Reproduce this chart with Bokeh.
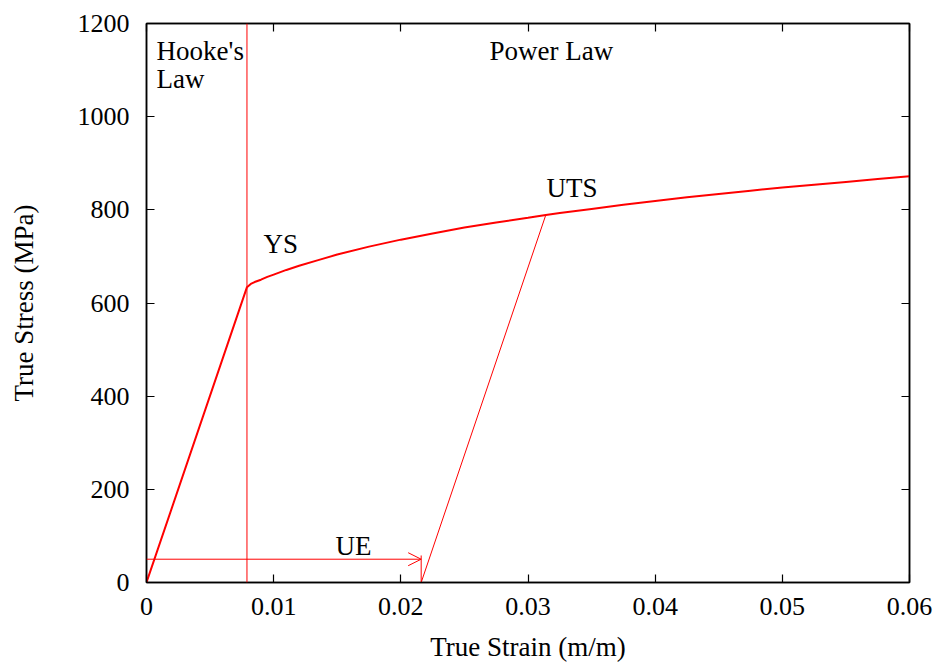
from bokeh.plotting import figure
from bokeh.models import (Range1d, LinearAxis, FixedTicker, CustomJSTickFormatter,
                          CustomLabelingPolicy, Label, Arrow, OpenHead, Span)
from bokeh.embed import file_html
from bokeh.resources import INLINE

# ---- data ----
x_ticks = [0.0, 0.01, 0.02, 0.03, 0.04, 0.05, 0.06]
x_tick_labels = ["0", "0.01", "0.02", "0.03", "0.04", "0.05", "0.06"]
y_ticks = [0, 200, 400, 600, 800, 1000, 1200]

# true stress-strain curve (elastic part + power-law hardening)
strain = [0.0, 0.0079, 0.0082, 0.0085, 0.009, 0.0095, 0.010, 0.011, 0.012, 0.0135,
          0.015, 0.0175, 0.020, 0.0225, 0.025, 0.0275, 0.030, 0.0314, 0.0325,
          0.035, 0.0375, 0.040, 0.0425, 0.045, 0.0475, 0.050, 0.0525, 0.055,
          0.0575, 0.060]
stress = [0, 634, 641, 645, 650, 656, 661, 671, 680, 692,
          704, 721, 736, 749, 762, 773, 783, 789, 793,
          802, 811, 819, 827, 834, 841, 848, 854, 860,
          866, 872]

yield_strain = 0.0079
uts_strain, uts_stress = 0.0314, 789
ue_strain = 0.0216
ue_arrow_stress = 50
ue_tick_top = 58

FONT = "Liberation Serif"
RED = "#ff0000"

p = figure(width=938, height=664, x_range=Range1d(0, 0.06), y_range=Range1d(0, 1200),
           output_backend="svg", toolbar_location=None,
           min_border_left=146, min_border_right=29, min_border_top=23, min_border_bottom=81)
p.xgrid.visible = False
p.ygrid.visible = False
p.outline_line_color = "black"
p.outline_line_width = 1.5
p.background_fill_color = "white"
p.border_fill_color = "white"

fmt = CustomJSTickFormatter(args=dict(xt=x_ticks, xl=x_tick_labels), code="""
for (let i = 0; i < xt.length; i++) { if (Math.abs(xt[i] - tick) < 1e-9) return xl[i]; }
return tick.toString();
""")

xa = p.xaxis[0]
xa.ticker = FixedTicker(ticks=x_ticks)
xa.formatter = fmt
xa.axis_label = "True Strain (m/m)"
ya = p.yaxis[0]
ya.ticker = FixedTicker(ticks=y_ticks)
ya.axis_label = "True Stress (MPa)"

for ax in (xa, ya):
    ax.major_tick_in = 8
    ax.major_tick_out = 0
    ax.minor_tick_in = 0
    ax.minor_tick_out = 0
    ax.axis_line_color = "black"
    ax.axis_line_width = 1.5
    ax.major_tick_line_color = "black"
    ax.major_tick_line_width = 1.2
    ax.major_label_text_font = FONT
    ax.major_label_text_font_size = "26px"
    ax.major_label_text_color = "black"
    ax.axis_label_text_font = FONT
    ax.axis_label_text_font_size = "27px"
    ax.axis_label_text_font_style = "normal"
    ax.axis_label_text_color = "black"
xa.major_label_standoff = 15
xa.axis_label_standoff = 14
ya.major_label_standoff = 17
ya.axis_label_standoff = 36

hide_all = CustomLabelingPolicy(code="""
const out = indices.clone();
for (const i of Array.from(indices)) { if (out.unset) out.unset(i); else out.set(i, false); }
return out;
""")

# mirrored ticks on top and right (no labels)
top = LinearAxis(ticker=FixedTicker(ticks=x_ticks), major_label_text_font_size="0px",
                 major_label_policy=hide_all,
                 major_label_standoff=0, major_tick_in=8, major_tick_out=0,
                 minor_tick_in=0, minor_tick_out=0, axis_line_width=1.5,
                 major_tick_line_width=1.2)
right = LinearAxis(ticker=FixedTicker(ticks=y_ticks), major_label_text_font_size="0px",
                   major_label_policy=hide_all,
                   major_label_standoff=0, major_tick_in=8, major_tick_out=0,
                   minor_tick_in=0, minor_tick_out=0, axis_line_width=1.5,
                   major_tick_line_width=1.2)
p.add_layout(top, "above")
p.add_layout(right, "right")

# yield boundary line
p.add_layout(Span(location=yield_strain, dimension="height", line_color=RED, line_width=1))

# main curve
p.line(strain, stress, line_color=RED, line_width=2)

# unloading line from UTS
p.line([ue_strain, uts_strain], [0, uts_stress], line_color=RED, line_width=1)

# UE arrow and its end marker
p.add_layout(Arrow(end=OpenHead(size=13, line_color=RED, line_width=1),
                   x_start=0, y_start=ue_arrow_stress, x_end=ue_strain, y_end=ue_arrow_stress,
                   line_color=RED, line_width=1))
p.segment(x0=[ue_strain], y0=[0], x1=[ue_strain], y1=[ue_tick_top], line_color=RED, line_width=1)

def lab(x, y, t):
    p.add_layout(Label(x=x, y=y, text=t, text_font=FONT, text_font_size="27px",
                       text_color="black", text_baseline="alphabetic", text_align="left"))

lab(0.00079, 1140, "Hooke's")
lab(0.00079, 1080, "Law")
lab(0.02697, 1140, "Power Law")
lab(0.0092, 726, "YS")
lab(0.03145, 846, "UTS")
lab(0.01486, 79, "UE")

open("out.html", "w").write(file_html(p, INLINE))
